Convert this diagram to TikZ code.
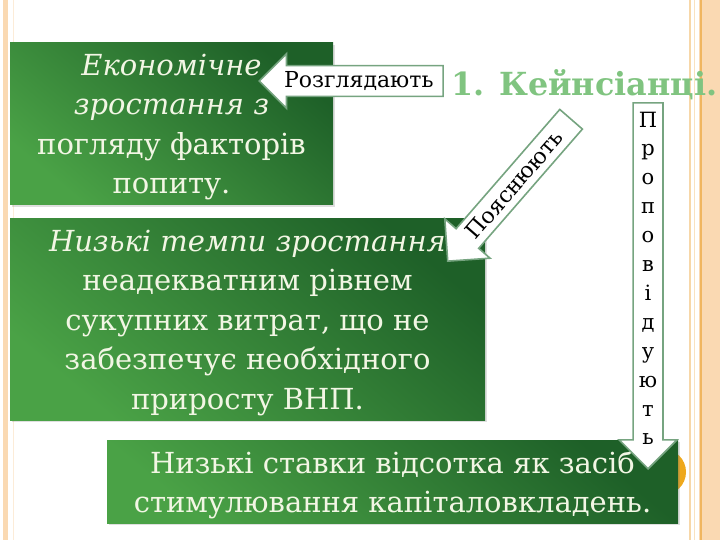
\documentclass[tikz,border=0pt]{standalone}
\usepackage{fontspec}
\setmainfont{DejaVu Serif}
\usetikzlibrary{shapes.arrows,shadows}
\definecolor{boxdark}{RGB}{30,96,40}
\definecolor{boxlight}{RGB}{74,162,70}
\definecolor{boxtext}{RGB}{242,246,228}
\definecolor{calloutrim}{RGB}{118,164,128}
\definecolor{titlegreen}{RGB}{128,196,128}
\definecolor{peach}{RGB}{250,217,178}
\definecolor{rimorange}{RGB}{240,182,96}
\definecolor{dotorange}{RGB}{238,168,28}
\tikzset{
  greenbox/.style={rectangle, inner sep=0pt, align=center, text=boxtext,
    top color=boxdark, bottom color=boxlight, shading angle=-40,
    drop shadow={opacity=0.25, shadow xshift=2pt, shadow yshift=-2pt},
    font=\fontsize{29}{39.5}\selectfont},
  callout/.style={single arrow, draw=calloutrim, fill=white, line width=1.6pt,
    single arrow tip angle=90, inner xsep=3pt, inner ysep=5pt,
    font=\fontsize{22}{29}\selectfont}
}
\begin{document}
\begin{tikzpicture}[x=1pt,y=-1pt]
  \useasboundingbox (0,0) rectangle (720,540);
  \fill[peach] (3,0) rectangle (8,540);
  \draw[peach!50, line width=0.8pt] (13,0) -- (13,540);
  \fill[peach] (699,0) rectangle (720,540);
  \draw[rimorange!55, line width=1.2pt] (690,0) -- (690,540);
  \draw[rimorange!40, line width=0.8pt] (694.5,0) -- (694.5,540);
  \draw[rimorange, line width=1.4pt] (701,0) -- (701,540);
  \node[greenbox, minimum width=323, minimum height=162, text depth=-1pt] (growth) at (171.5,124)
    {\textit{Економічне}\\\textit{зростання з}\\погляду факторів\\попиту.};
  \node[greenbox, minimum width=475, minimum height=201, text depth=-1pt] (pace) at (247.5,319.5)
    {\textit{Низькі темпи зростання}\\неадекватним рівнем\\сукупних витрат, що не\\забезпечує необхідного\\приросту ВНП.};
  \fill[dotorange] (663,472) circle[radius=23];
  \node[greenbox, minimum width=571, minimum height=83, text depth=-7pt] (rates) at (392.5,481.5)
    {Низькі ставки відсотка як засіб\\стимулювання капіталовкладень.};
  \node[font=\fontsize{31.8}{38}\selectfont\bfseries, text=titlegreen, anchor=base west,
    inner sep=0pt] (title) at (451,96) {1. Кейнсіанці.};
  \node[callout, shape border rotate=180, minimum height=184,
    single arrow head extend=12, anchor=tip] (review) at (258,81) {Розглядають};
  \node[callout, rotate=49, shape border rotate=180, minimum height=188, inner ysep=6pt,
    single arrow head extend=15, anchor=tip] (explain) at (447,262) {Пояснюють};
  \node[callout, shape border rotate=270, minimum height=366, align=center,
    inner xsep=5pt, inner ysep=2pt, single arrow head extend=14, anchor=tip,
    font=\fontsize{21}{28.9}\selectfont] (advocate) at (648,470)
    {П\\р\\о\\п\\о\\в\\і\\д\\у\\ю\\т\\ь};
\end{tikzpicture}
\end{document}
